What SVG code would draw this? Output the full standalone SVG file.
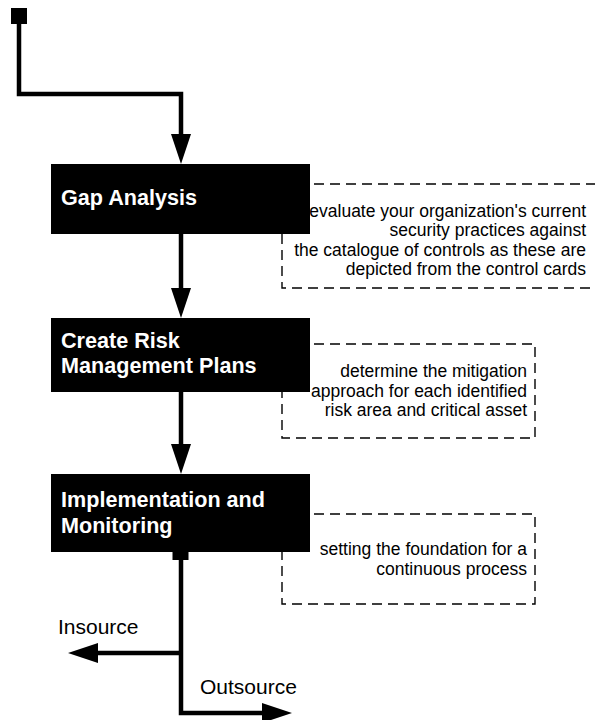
<svg xmlns="http://www.w3.org/2000/svg" width="595" height="720" viewBox="0 0 595 720">
  <style>
    .step { fill: #000; }
    .step-label { fill: #fff; font-family: "Liberation Sans", Arial, sans-serif; font-size: 21.6px; font-weight: bold; }
    .note { fill: none; stroke: #000; stroke-width: 1.4; stroke-dasharray: 10 6; }
    .note-text { fill: #000; font-family: "Liberation Sans", Arial, sans-serif; font-size: 17.5px; text-anchor: end; }
    .flow { fill: none; stroke: #000; stroke-width: 4.5; stroke-linejoin: miter; }
    .branch-label { fill: #000; font-family: "Liberation Sans", Arial, sans-serif; font-size: 21px; }
  </style>
  <defs>
    <marker id="arrow" viewBox="0 0 30 20" refX="1" refY="10" markerWidth="30" markerHeight="20" markerUnits="userSpaceOnUse" orient="auto">
      <path d="M0,0 L30,10 L0,20 Z" fill="#000"/>
    </marker>
  </defs>

  <rect width="595" height="720" fill="#fff"/>

  <!-- dashed annotation boxes (drawn under the steps) -->
  <g id="note-gap">
    <rect class="note" x="282" y="184" width="318" height="104"/>
    <text class="note-text" x="586" y="216.5">evaluate your organization's current</text>
    <text class="note-text" x="586" y="236">security practices against</text>
    <text class="note-text" x="586" y="255.5">the catalogue of controls as these are</text>
    <text class="note-text" x="586" y="275">depicted from the control cards</text>
  </g>
  <g id="note-risk">
    <rect class="note" x="282" y="344" width="253" height="94"/>
    <text class="note-text" x="527" y="377">determine the mitigation</text>
    <text class="note-text" x="527" y="396.5">approach for each identified</text>
    <text class="note-text" x="527" y="416">risk area and critical asset</text>
  </g>
  <g id="note-impl">
    <rect class="note" x="282" y="514" width="253" height="90"/>
    <text class="note-text" x="527" y="555">setting the foundation for a</text>
    <text class="note-text" x="527" y="574.5">continuous process</text>
  </g>

  <!-- connectors -->
  <g id="connectors">
    <rect x="11" y="8" width="16" height="16" fill="#000"/>
    <path class="flow" d="M19,16 V94 H181 V135" marker-end="url(#arrow)"/>
    <path class="flow" d="M181,234 V289" marker-end="url(#arrow)"/>
    <path class="flow" d="M181,392 V445" marker-end="url(#arrow)"/>
    <rect x="172.5" y="544" width="16" height="16" fill="#000"/>
    <path class="flow" d="M181,552 V713 H263" marker-end="url(#arrow)"/>
    <path class="flow" d="M181,653 H97" marker-end="url(#arrow)"/>
  </g>

  <!-- process steps -->
  <g id="step-gap">
    <rect class="step" x="51" y="164" width="259" height="70"/>
    <text class="step-label" x="61" y="205">Gap Analysis</text>
  </g>
  <g id="step-risk">
    <rect class="step" x="51" y="318" width="259" height="74"/>
    <text class="step-label" x="61" y="347.5">Create Risk</text>
    <text class="step-label" x="61" y="372.5">Management Plans</text>
  </g>
  <g id="step-impl">
    <rect class="step" x="51" y="474" width="259" height="78"/>
    <text class="step-label" x="61" y="506.5">Implementation and</text>
    <text class="step-label" x="61" y="532.5">Monitoring</text>
  </g>

  <!-- branch labels -->
  <g id="branch-insource">
    <text class="branch-label" x="58" y="634">Insource</text>
  </g>
  <g id="branch-outsource">
    <text class="branch-label" x="200" y="694">Outsource</text>
  </g>
</svg>
